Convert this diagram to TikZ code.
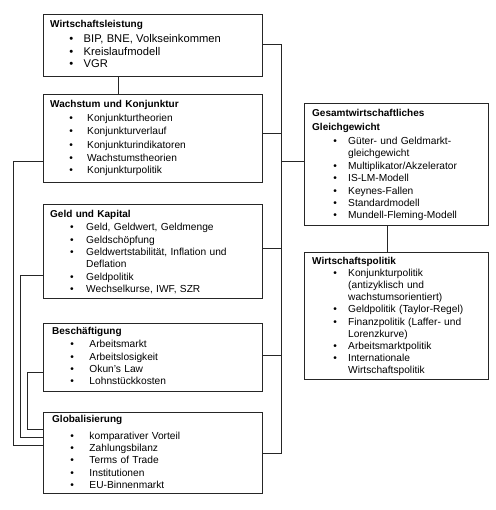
\documentclass[tikz,border=0pt]{standalone}
\usepackage{fontspec}
\setmainfont{Liberation Sans}
\begin{document}
\begin{tikzpicture}[x=1pt,y=-1pt]
\tikzset{
  box/.style={draw=black!85, line width=0.9pt, anchor=north west, inner sep=0pt},
  txt/.style={anchor=base west, inner sep=0pt, align=left, text width=#1},
  txt/.default=205pt,
  wire/.style={draw=black!85, line width=0.9pt},
  ttl/.style={},
}
\newcommand\mkB[2]{\makebox[0pt][l]{\hspace*{#1}\textbullet}\hspace*{#2}}
\useasboundingbox (0,0) rectangle (495,510);

% ---------- boxes ----------
\node[box, minimum width=219.5pt, minimum height=62pt]  (b1) at (42.5,14)  {};
\node[box, minimum width=219.5pt, minimum height=88pt]  (b2) at (42.5,94)  {};
\node[box, minimum width=219.5pt, minimum height=94pt]  (b3) at (42.5,204.3) {};
\node[box, minimum width=219.5pt, minimum height=68pt]  (b4) at (42.5,322.7) {};
\node[box, minimum width=219.5pt, minimum height=81pt]  (b5) at (42.5,411.7) {};
\node[box, minimum width=184.5pt, minimum height=121.7pt] (g)  at (303.5,103.3) {};
\node[box, minimum width=184.5pt, minimum height=126.5pt] (w)  at (303.5,252.3) {};

% ---------- texts ----------
\node[txt] (t1) at (50,27.5) {\fontsize{11.2}{13.5}\selectfont
  \def\B{\mkB{19.2pt}{33.5pt}}%
  {\fontsize{10}{13.5}\selectfont\bfseries Wirtschaftsleistung}\\[1.5pt]
  \B BIP, BNE, Volkseinkommen\\
  \B Kreislaufmodell\\
  \B VGR};

\node[txt] (t2) at (50,107.5) {\fontsize{10.2}{13.5}\selectfont
  \def\B{\mkB{19.2pt}{37pt}}%
  {\fontsize{10}{13.5}\selectfont\bfseries Wachstum und Konjunktur}\\[0.5pt]
  \B Konjunkturtheorien\\
  \B Konjunkturverlauf\\
  \B Konjunkturindikatoren\\
  \B Wachstumstheorien\\
  \B Konjunkturpolitik};

\node[txt] (t3) at (50,217.5) {\fontsize{10.2}{12.4}\selectfont
  \def\B{\mkB{19.9pt}{36pt}}\def\C{\hspace*{36pt}}%
  {\fontsize{10}{12.4}\selectfont\bfseries Geld und Kapital}\\[0.9pt]
  \B Geld, Geldwert, Geldmenge\\
  \B Geldschöpfung\\
  \B Geldwertstabilität, Inflation und\\
  \C Deflation\\
  \B Geldpolitik\\
  \B Wechselkurse, IWF, SZR};

\node[txt] (t4) at (52,334.2) {\fontsize{10.2}{12.5}\selectfont
  \def\B{\mkB{18.2pt}{37.3pt}}%
  {\fontsize{10}{12.5}\selectfont\bfseries Beschäftigung}\\[1.1pt]
  \B Arbeitsmarkt\\
  \B Arbeitslosigkeit\\
  \B Okun's Law\\
  \B Lohnstückkosten};

\node[txt] (t5) at (52,422.8) {\fontsize{10.2}{12.3}\selectfont
  \def\B{\mkB{18.2pt}{37.3pt}}%
  {\fontsize{10}{12.3}\selectfont\bfseries Globalisierung}\\[4.1pt]
  \B komparativer Vorteil\\
  \B Zahlungsbilanz\\
  \B Terms of Trade\\
  \B Institutionen\\
  \B EU-Binnenmarkt};

\node[txt=170pt] (tg) at (312,116.8) {\fontsize{10.2}{12.5}\selectfont
  \def\B{\mkB{21.2pt}{36pt}}\def\C{\hspace*{36pt}}%
  {\fontsize{10}{12.5}\selectfont\bfseries Gesamtwirtschaftliches\\[0.9pt]
  Gleichgewicht}\\[1.8pt]
  \B Güter- und Geldmarkt-\\
  \C gleichgewicht\\
  \B Multiplikator/Akzelerator\\
  \B IS-LM-Modell\\
  \B Keynes-Fallen\\
  \B Standardmodell\\
  \B Mundell-Fleming-Modell};

\node[txt=170pt] (tw) at (312,264.5) {\fontsize{10.2}{12.2}\selectfont
  \def\B{\mkB{21.2pt}{36pt}}\def\C{\hspace*{36pt}}%
  {\fontsize{10}{12.2}\selectfont\bfseries Wirtschaftspolitik}\\[-0.4pt]
  \B Konjunkturpolitik\\
  \C (antizyklisch und\\
  \C wachstumsorientiert)\\
  \B Geldpolitik (Taylor-Regel)\\
  \B Finanzpolitik (Laffer- und\\
  \C Lorenzkurve)\\
  \B Arbeitsmarktpolitik\\
  \B Internationale\\
  \C Wirtschaftspolitik};

% ---------- connectors ----------
\draw[wire] ([xshift=75.5pt]b1.south west) -- ([xshift=75.5pt]b2.north west);
\draw[wire] ([xshift=83.5pt]g.south west) -- ([xshift=83.5pt]w.north west);

\coordinate (bustop) at (281,44.3);
\coordinate (busbot) at (281,453);
\coordinate (j2) at (281,133);
\coordinate (jg) at (281,161);
\coordinate (j3) at (281,248);
\coordinate (j4) at (281,355);
\draw[wire] (bustop -| b1.east) -- (bustop) -- (busbot) -- (busbot -| b5.east);
\draw[wire] (j2 -| b2.east) -- (j2);
\draw[wire] (jg) -- (jg -| g.west);
\draw[wire] (j3 -| b3.east) -- (j3);
\draw[wire] (j4 -| b4.east) -- (j4);

\coordinate (la) at (13,161.5);
\coordinate (lb) at (13,445.5);
\coordinate (ma) at (20.7,275);
\coordinate (mb) at (20.7,437.5);
\coordinate (na) at (27.7,372.5);
\coordinate (nb) at (27.7,429);
\draw[wire] (la -| b2.west) -- (la) -- (lb) -- (lb -| b5.west);
\draw[wire] (ma -| b3.west) -- (ma) -- (mb) -- (mb -| b5.west);
\draw[wire] (na -| b4.west) -- (na) -- (nb) -- (nb -| b5.west);
\end{tikzpicture}
\end{document}
